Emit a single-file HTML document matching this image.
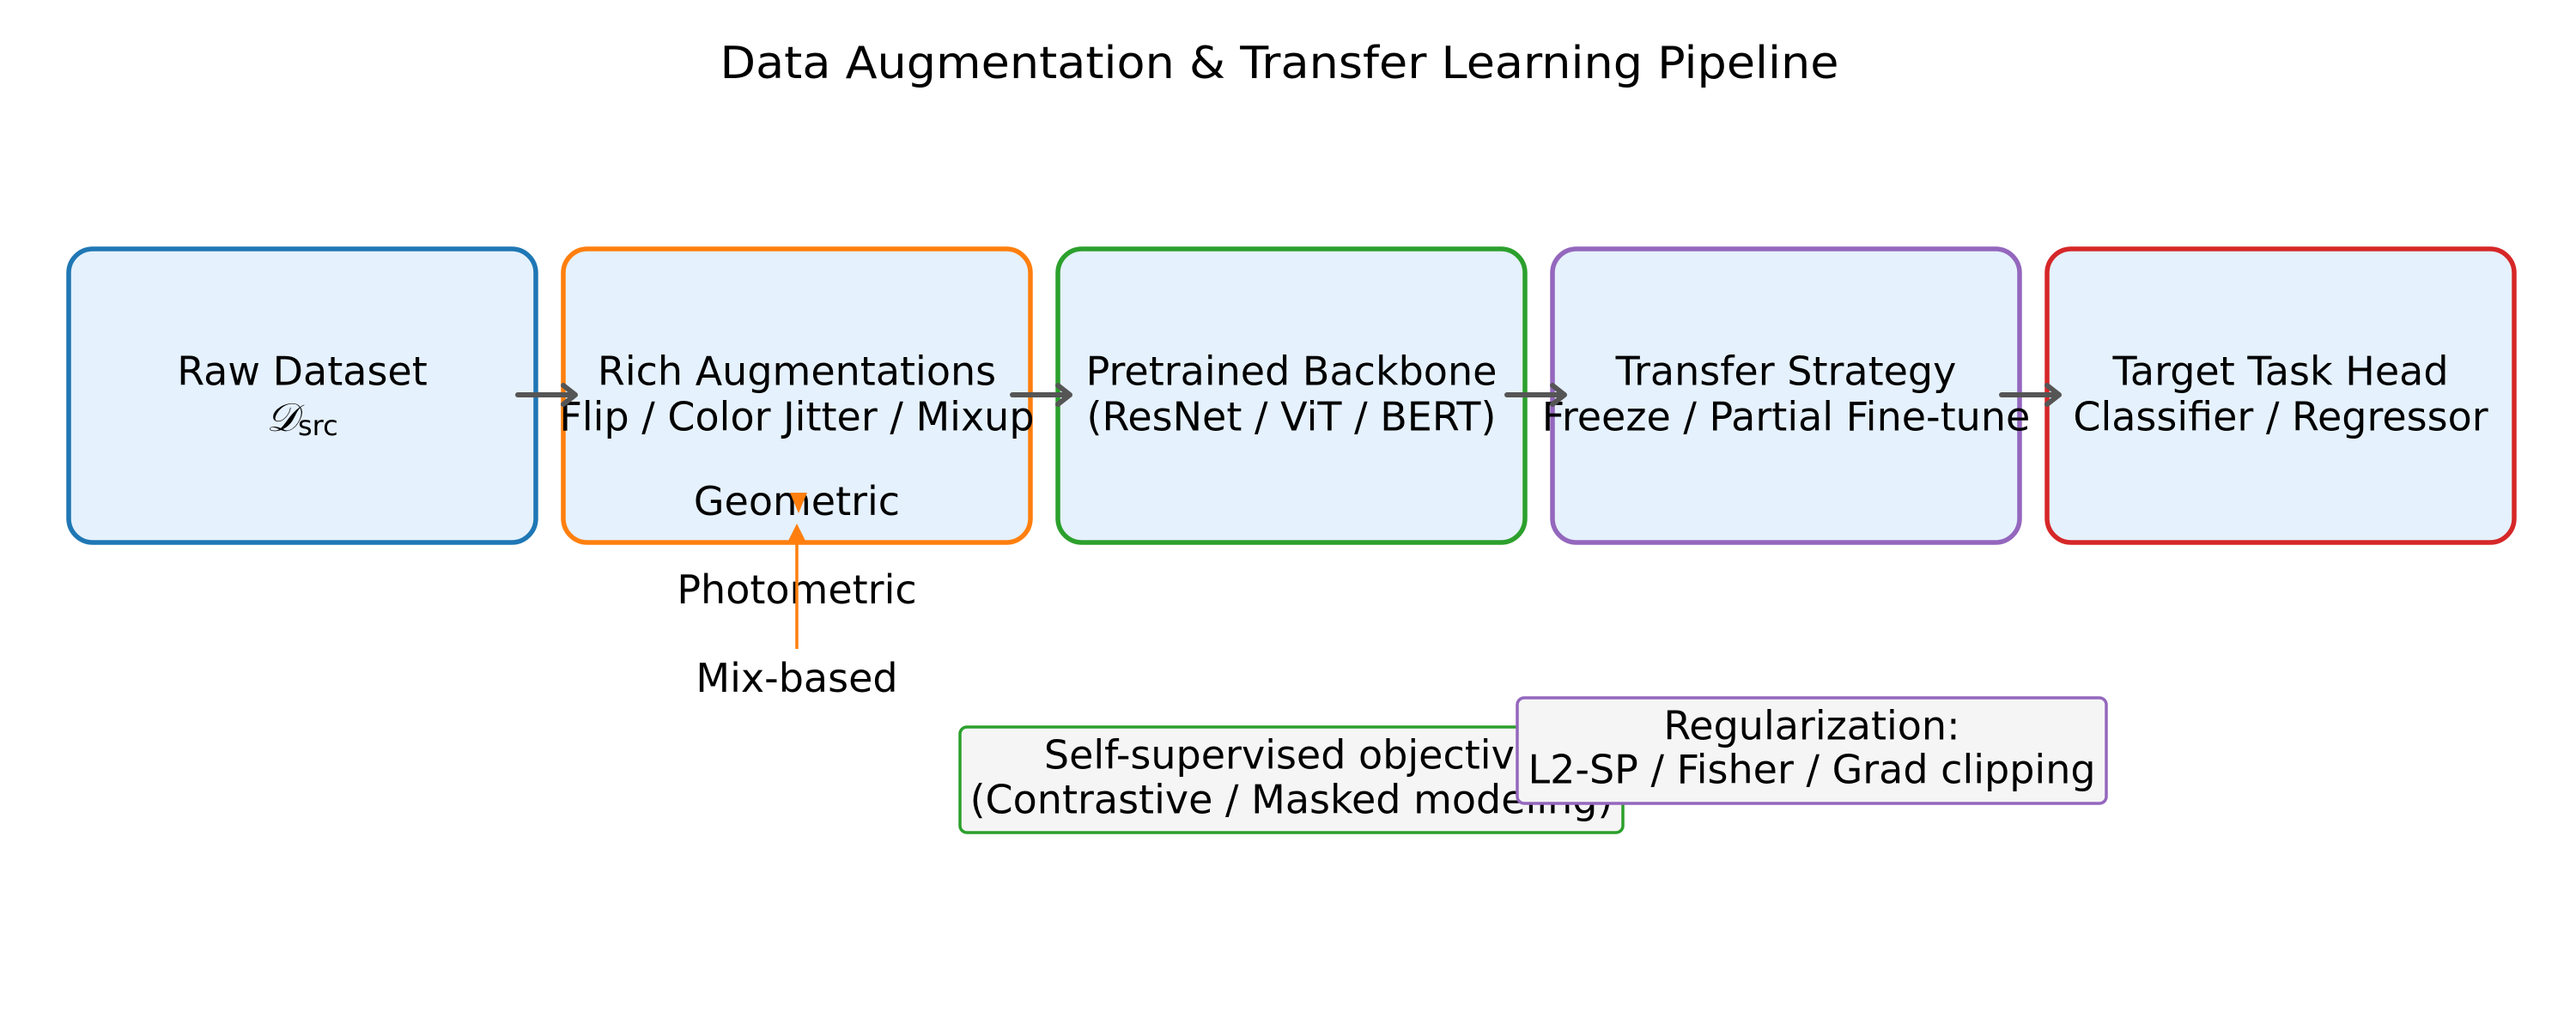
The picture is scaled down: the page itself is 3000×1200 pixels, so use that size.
<!DOCTYPE html>
<html><head><meta charset="utf-8"><style>
html,body{margin:0;padding:0;background:#fff;}
svg{display:block;}
text{font-family:"DejaVu Sans","Liberation Sans",sans-serif;fill:#000;}
</style></head><body>
<svg width="3000" height="1200" viewBox="0 0 3000 1200" xmlns="http://www.w3.org/2000/svg">
<text x="1490" y="77" font-size="52" text-anchor="middle" dominant-baseline="middle" textLength="1303" lengthAdjust="spacingAndGlyphs">Data Augmentation &amp; Transfer Learning Pipeline</text>

<g stroke-width="5.5" fill="#e5f1fd">
<rect x="80" y="290" width="544" height="342" rx="28" stroke="#1f77b4"/>
<rect x="656" y="290" width="544" height="342" rx="28" stroke="#ff7f0e"/>
<rect x="1232" y="290" width="544" height="342" rx="28" stroke="#2ca02c"/>
<rect x="1808" y="290" width="544" height="342" rx="28" stroke="#9467bd"/>
<rect x="2384" y="290" width="544" height="342" rx="28" stroke="#d62728"/>
</g>

<g font-size="46" text-anchor="middle" dominant-baseline="middle">
<text x="352" y="436">Raw Dataset</text>
<text x="352" y="490"><tspan font-family="DejaVu Serif" font-style="italic">𝒟</tspan><tspan font-size="32" dy="8">src</tspan></text>
<text x="928" y="436">Rich Augmentations</text>
<text x="928" y="489">Flip / Color Jitter / Mixup</text>
<text x="1504" y="436">Pretrained Backbone</text>
<text x="1504" y="489">(ResNet / ViT / BERT)</text>
<text x="2080" y="436">Transfer Strategy</text>
<text x="2080" y="489">Freeze / Partial Fine-tune</text>
<text x="2656" y="436">Target Task Head</text>
<text x="2656" y="489">Classifier / Regressor</text>
</g>

<g stroke="#555" stroke-width="6" fill="none" stroke-linecap="round" stroke-linejoin="round">
<line x1="603" y1="460" x2="668" y2="460"/><polyline points="656,449 670,460 656,471"/>
<line x1="1179" y1="460" x2="1244" y2="460"/><polyline points="1232,449 1246,460 1232,471"/>
<line x1="1755" y1="460" x2="1820" y2="460"/><polyline points="1808,449 1822,460 1808,471"/>
<line x1="2331" y1="460" x2="2396" y2="460"/><polyline points="2384,449 2398,460 2384,471"/>
</g>

<g font-size="46" text-anchor="middle">
<text x="928" y="600">Geometric</text>
<text x="928" y="703">Photometric</text>
<text x="928" y="806">Mix-based</text>
</g>
<line x1="928" y1="756" x2="928" y2="625" stroke="#ff7f0e" stroke-width="3.5"/>
<polygon points="928,610 917,632 939,632" fill="#ff7f0e"/>
<polygon points="920,574 940,574 930,598" fill="#ff7f0e"/>

<rect x="1118" y="847" width="772" height="123" rx="8" fill="#f5f5f5" stroke="#2ca02c" stroke-width="3.5"/>
<g font-size="46" text-anchor="middle" dominant-baseline="middle">
<text x="1504" y="883">Self-supervised objective</text>
<text x="1504" y="935">(Contrastive / Masked modeling)</text>
</g>
<rect x="1767" y="813" width="686" height="123" rx="8" fill="#f5f5f5" stroke="#9467bd" stroke-width="3.5"/>
<g font-size="46" text-anchor="middle" dominant-baseline="middle">
<text x="2110" y="849">Regularization:</text>
<text x="2110" y="900">L2-SP / Fisher / Grad clipping</text>
</g>
</svg>
</body></html>
